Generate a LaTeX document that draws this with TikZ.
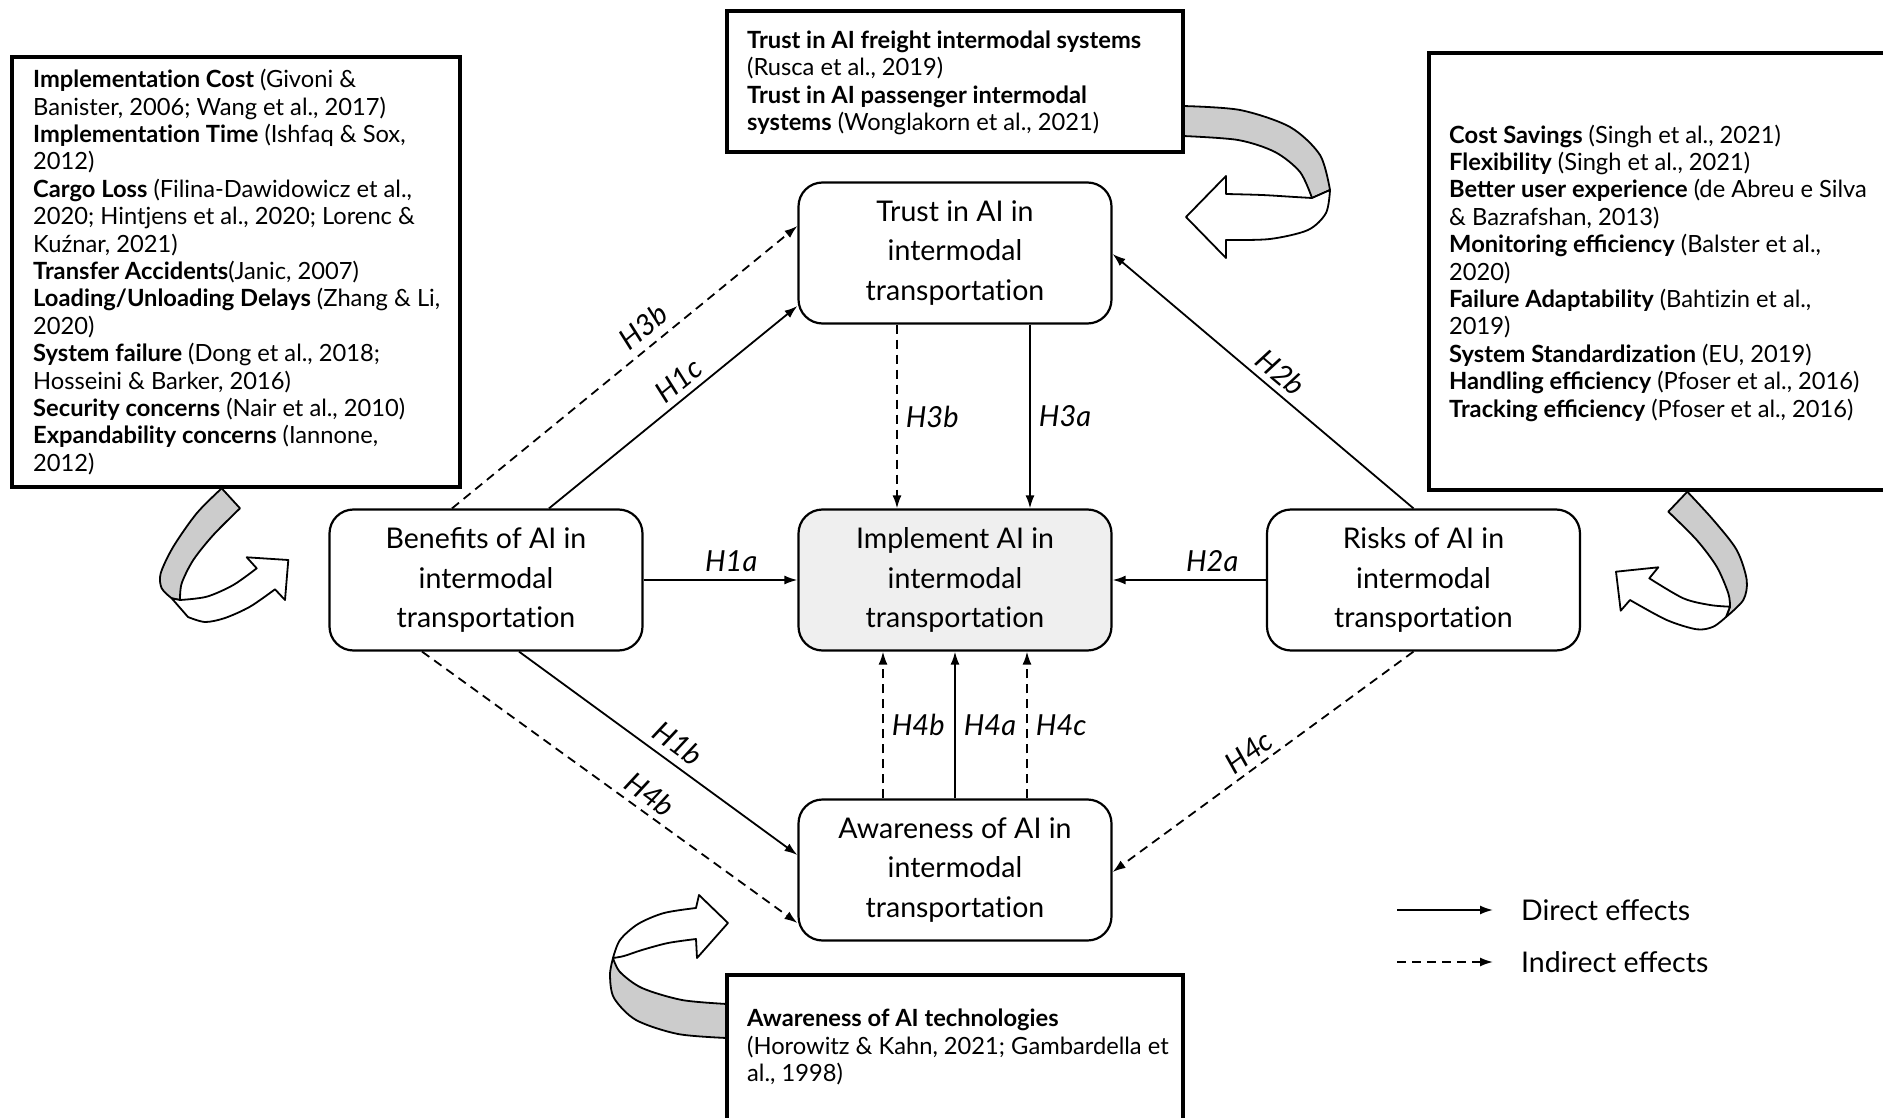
\documentclass[tikz,border=0pt]{standalone}
\usepackage{fontspec}
\setmainfont{Lato}
\usetikzlibrary{arrows.meta,calc}
\definecolor{ribbongray}{HTML}{CCCCCC}
\definecolor{implfill}{HTML}{EFEFEF}
\newcommand\mynodefont{\fontsize{28.5}{39.6}\selectfont}
\newcommand\myboxfont{\fontsize{23.7}{27.4}\selectfont}
\newcommand\mylblfont{\fontsize{29}{32}\selectfont\itshape}
\newcommand\myti{t\kern0pt i}
\begin{document}
\begin{tikzpicture}[x=1pt,y=-1pt,
  concept/.style={draw, line width=2.2pt, rounded corners=24pt, minimum width=313pt, minimum height=141pt, align=center, font=\mynodefont, inner sep=0pt},
  infobox/.style={draw, fill=white, line width=3.3pt, inner sep=0pt},
  boxtext/.style={align=left, font=\myboxfont, inner sep=0pt, anchor=west},
  direct/.style={line width=1.8pt, -{Latex[length=13pt,width=9pt]}},
  indirect/.style={direct, dash pattern=on 9pt off 6pt},
  hyp/.style={font=\mylblfont, inner sep=2pt},
  ribbonback/.style={draw, fill=ribbongray, line width=1.8pt, line join=round},
  ribbonfront/.style={draw, fill=white, line width=1.8pt, line join=round},
  legtext/.style={font=\mynodefont, anchor=west, inner sep=0pt}]
\useasboundingbox (0,0) rectangle (1883,1118);
\clip (0,0) rectangle (1883,1118);

% ---------- ribbon arrows ----------
% left
\path[ribbonback] plot[smooth] coordinates {(221.7,488.3) (196.7,513.3) (173.3,546.7) (160.7,573.3) (161.7,588.3) (171.7,598.3)}
  -- (180,600) -- plot[smooth] coordinates {(180,600) (181.7,583.3) (193.3,560) (213.3,535) (240,508.3)} -- cycle;
\path[ribbonfront] (171.7,598.3) -- (188,617) -- plot[smooth] coordinates {(188,617) (205,622) (225,618) (250,606.7) (275,589.3)}
  -- (285,600) -- (288.3,560) -- (246.7,557.3) -- (256.7,568.3)
  -- plot[smooth] coordinates {(256.7,568.3) (233.3,585) (206.7,596.7) (180,600)} -- cycle;
% right
\path[ribbonback] plot[smooth] coordinates {(1687.3,491.7) (1713.3,520) (1736.7,550) (1746.7,580) (1743.3,600) (1726,617)}
  -- (1730,606.7) -- plot[smooth] coordinates {(1730,606.7) (1728.3,593.3) (1716.7,566.7) (1696.7,540) (1668.3,511.7)} -- cycle;
\path[ribbonfront] plot[smooth] coordinates {(1726,617) (1713.3,626.7) (1696.7,629.3) (1666.7,620) (1630,600)}
  -- (1620.7,610.7) -- (1616,571.7) -- (1658.3,567.3) -- (1649.3,578.3)
  -- plot[smooth] coordinates {(1649.3,578.3) (1683.3,598.3) (1710,605) (1730,606.7)} -- cycle;
% top
\path[ribbonback] plot[smooth] coordinates {(1183,106) (1240,110) (1290,127) (1320,155) (1330,190)}
  -- (1312,198) -- plot[smooth] coordinates {(1312,198) (1300,172) (1275,152) (1238,140) (1183,136)} -- cycle;
\path[ribbonfront] plot[smooth] coordinates {(1330,190) (1326,213) (1308,230) (1270,239) (1226,240)}
  -- (1226,258) -- (1186,217) -- (1226,176) -- (1226,194)
  -- plot[smooth] coordinates {(1226,194) (1262,195) (1295,197) (1312,198)} -- cycle;
% bottom
\path[ribbonback] plot[smooth] coordinates {(727,1038) (678,1034) (636,1020) (614,998) (610,975) (613,958)}
  -- plot[smooth] coordinates {(613,958) (620,972) (642,988) (682,1000) (727,1004)} -- cycle;
\path[ribbonfront] plot[smooth] coordinates {(613,958) (620,940) (638,924) (664,913) (696,908)}
  -- (699,895) -- (728,923) -- (697,958) -- (696,939)
  -- plot[smooth] coordinates {(696,939) (668,943) (642,950) (624,956) (613,958)} -- cycle;

% ---------- info boxes ----------
\node[infobox, minimum width=448pt, minimum height=430pt] (leftbox) at (236,272) {};
\node[infobox, minimum width=456pt, minimum height=141pt] (topbox) at (955,81.5) {};
\node[infobox, minimum width=480pt, minimum height=437pt] (rightbox) at (1669,271.5) {};
\node[infobox, minimum width=456pt, minimum height=170pt] (botbox) at (955,1060) {};

\node[boxtext] (lefttext) at (33,272) {\textbf{Implementa\myti on Cost} (Givoni \&\\Banister, 2006; Wang et al., 2017)\\\textbf{Implementa\myti on Time} (Ishfaq \& Sox,\\2012)\\\textbf{Cargo Loss} (Filina-Dawidowicz et al.,\\2020; Hintjens et al., 2020; Lorenc \&\\Kuźnar, 2021)\\\textbf{Transfer Accidents}(Janic, 2007)\\\textbf{Loading/Unloading Delays} (Zhang \& Li,\\2020)\\\textbf{System failure} (Dong et al., 2018;\\Hosseini \& Barker, 2016)\\\textbf{Security concerns} (Nair et al., 2010)\\\textbf{Expandability concerns} (Iannone,\\2012)};
\node[boxtext] (toptext) at (747,83) {\textbf{Trust in AI freight intermodal systems}\\(Rusca et al., 2019)\\\textbf{Trust in AI passenger intermodal}\\\textbf{systems} (Wonglakorn et al., 2021)};
\node[boxtext] (righttext) at (1449,273) {\textbf{Cost Savings} (Singh et al., 2021)\\\textbf{Flexibility} (Singh et al., 2021)\\\textbf{Better user experience} (de Abreu e Silva\\\& Bazrafshan, 2013)\\\textbf{Monitoring efficiency} (Balster et al.,\\2020)\\\textbf{Failure Adaptability} (Bah\myti zin et al.,\\2019)\\\textbf{System Standardiza\myti on} (EU, 2019)\\\textbf{Handling efficiency} (Pfoser et al., 2016)\\\textbf{Tracking efficiency} (Pfoser et al., 2016)};
\node[boxtext] (bottext) at (747,1047) {\textbf{Awareness of AI technologies}\\(Horowitz \& Kahn, 2021; Gambardella et\\al., 1998)};

% ---------- concept nodes ----------
\node[concept] (trust) at (955,253) {Trust in AI in\\intermodal\\transporta\myti on};
\node[concept, fill=implfill] (impl) at (955,580) {Implement AI in\\intermodal\\transporta\myti on};
\node[concept] (ben) at (486,580) {Benefits of AI in\\intermodal\\transporta\myti on};
\node[concept] (risk) at (1423.5,580) {Risks of AI in\\intermodal\\transporta\myti on};
\node[concept] (aware) at (955,870) {Awareness of AI in\\intermodal\\transporta\myti on};

% ---------- connectors ----------
\draw[direct] (ben.east) -- (impl.west) node[hyp, above=5pt, pos=0.57] {H1a};
\draw[direct] (risk.west) -- (impl.east) node[hyp, above=5pt, pos=0.35] {H2a};
\draw[direct] ([xshift=63pt]ben.north) -- ([yshift=-53pt]trust.west) node[hyp, sloped, above=4pt, pos=0.567] {H1c};
\draw[indirect] ([xshift=-34pt]ben.north) -- ([yshift=27pt]trust.west) node[hyp, sloped, above=6pt, pos=0.59] {H3b};
\draw[direct] ([xshift=-10pt]risk.north) -- ([yshift=-1pt]trust.east) node[hyp, sloped, above=4pt, pos=0.48] {H2b};
\draw[indirect] ([xshift=-58pt]trust.south) -- ([xshift=-58pt]impl.north) node[hyp, right=6pt, pos=0.5] {H3b};
\draw[direct] ([xshift=75pt]trust.south) -- ([xshift=75pt]impl.north) node[hyp, right=6pt, pos=0.5] {H3a};
\draw[indirect] ([xshift=-72pt]aware.north) -- ([xshift=-72pt]impl.south) node[hyp, right=6pt, pos=0.5] {H4b};
\draw[direct] (aware.north) -- (impl.south) node[hyp, right=6pt, pos=0.5] {H4a};
\draw[indirect] ([xshift=72pt]aware.north) -- ([xshift=72pt]impl.south) node[hyp, right=6pt, pos=0.5] {H4c};
\draw[direct] ([xshift=33pt]ben.south) -- ([yshift=15pt]aware.west) node[hyp, sloped, above=6pt, pos=0.53] {H1b};
\draw[indirect] ([xshift=-64pt]ben.south) -- ([yshift=-53pt]aware.west) node[hyp, sloped, above=4pt, pos=0.58] {H4b};
\draw[indirect] ([xshift=-10pt]risk.south) -- ([yshift=-2pt]aware.east) node[hyp, sloped, above=3pt, pos=0.515] {H4c};

% ---------- legend ----------
\coordinate (d1) at (1397,910);
\coordinate (d2) at (1493,910);
\coordinate (i1) at (1397,962);
\coordinate (i2) at (1493,962);
\draw[direct] (d1) -- (d2);
\draw[indirect] (i1) -- (i2);
\node[legtext] (dlab) at (1521,910) {Direct effects};
\node[legtext] (ilab) at (1521,962) {Indirect effects};
\end{tikzpicture}
\end{document}
